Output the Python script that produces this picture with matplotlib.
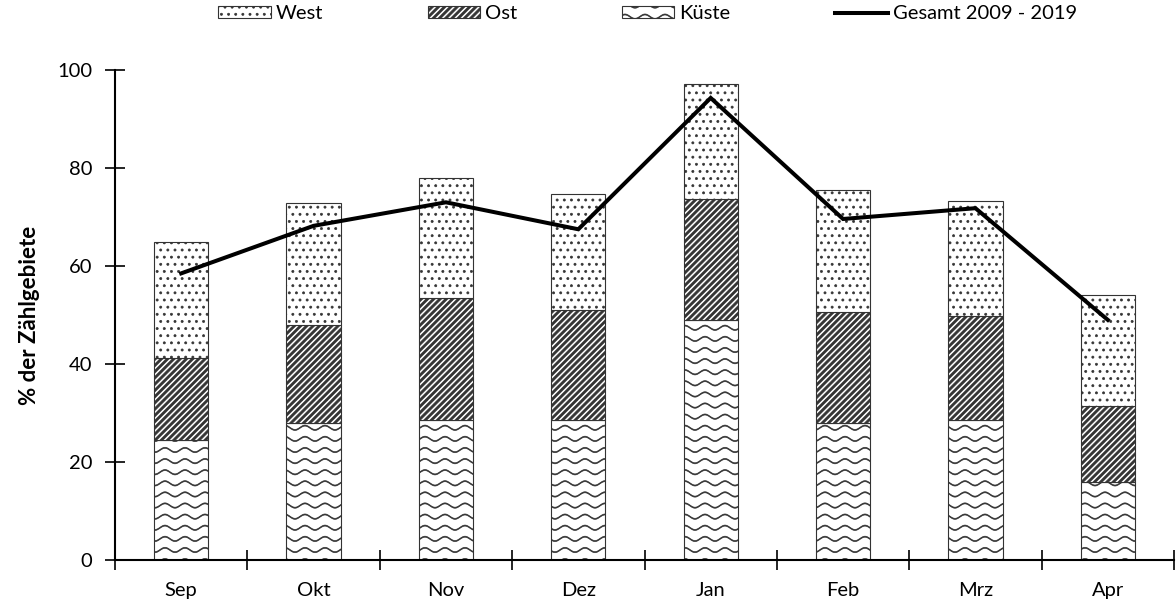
import warnings
import numpy as np
import matplotlib
matplotlib.use("Agg")
import matplotlib.pyplot as plt
import matplotlib.hatch as mhatch
from matplotlib.path import Path

warnings.filterwarnings("ignore")

# ---------------- data ----------------
months = ["Sep", "Okt", "Nov", "Dez", "Jan", "Feb", "Mrz", "Apr"]
kueste = [24.5, 28.0, 28.6, 28.6, 48.9, 28.0, 28.6, 15.9]
ost = [16.8, 20.0, 24.9, 22.4, 24.8, 22.7, 21.2, 15.5]
west = [23.7, 24.8, 24.5, 23.7, 23.5, 24.9, 23.5, 22.6]
gesamt = [58.5, 68.2, 73.0, 67.5, 94.3, 69.6, 71.8, 49.0]
yticks = [0, 20, 40, 60, 80, 100]


# ---------------- custom hatches (unit cell = 72 pt) ----------------
class WaveHatch(mhatch.HatchPatternBase):
    rows = 9
    periods = 5
    npts = 81
    amp = 0.022
    thick = 0.005

    def __init__(self, hatch, density):
        self.on = 'w' in hatch
        self.num_vertices = self.rows * 2 * self.npts if self.on else 0

    def set_vertices_and_codes(self, vertices, codes):
        x = np.linspace(0.0, 1.0, self.npts)
        y = self.amp * np.sin(2 * np.pi * self.periods * x)
        n = self.npts
        for i in range(self.rows):
            s = (i + 0.5) / self.rows
            b = i * 2 * n
            vertices[b:b + n, 0] = x
            vertices[b:b + n, 1] = s + y + self.thick
            vertices[b + n:b + 2 * n, 0] = x[::-1]
            vertices[b + n:b + 2 * n, 1] = (s + y - self.thick)[::-1]
            codes[b:b + 2 * n] = Path.LINETO
            codes[b] = Path.MOVETO


class StripeHatch(mhatch.HatchPatternBase):
    n = 16
    w = 0.03

    def __init__(self, hatch, density):
        self.on = 's' in hatch
        self.num_vertices = (2 * self.n + 1) * 5 if self.on else 0

    def set_vertices_and_codes(self, vertices, codes):
        i = 0
        for k in range(-self.n, self.n + 1):
            x0 = k / self.n
            vertices[i:i + 5] = [(x0, 0), (x0 + self.w, 0), (x0 + self.w + 1, 1),
                                 (x0 + 1, 1), (x0, 0)]
            codes[i] = Path.MOVETO
            codes[i + 1:i + 4] = Path.LINETO
            codes[i + 4] = Path.CLOSEPOLY
            i += 5


class DotHatch(mhatch.HatchPatternBase):
    cols = 14
    rows = 14
    r = 0.011
    seg = 12

    def _centers(self):
        pts = []
        for j in range(self.rows + 1):
            yy = j / self.rows
            if j % 2 == 0:
                xs = np.arange(self.cols + 1) / self.cols
            else:
                xs = (np.arange(self.cols) + 0.5) / self.cols
            for xx in xs:
                pts.append((xx, yy))
        return pts

    def __init__(self, hatch, density):
        self.on = 'd' in hatch
        self.num_vertices = len(self._centers()) * (self.seg + 1) if self.on else 0

    def set_vertices_and_codes(self, vertices, codes):
        t = np.linspace(0, 2 * np.pi, self.seg, endpoint=False)
        cx, cy = self.r * np.cos(t), self.r * np.sin(t)
        m = self.seg + 1
        for i, (px, py) in enumerate(self._centers()):
            b = i * m
            vertices[b:b + self.seg, 0] = px + cx
            vertices[b:b + self.seg, 1] = py + cy
            vertices[b + self.seg] = (px + cx[0], py + cy[0])
            codes[b] = Path.MOVETO
            codes[b + 1:b + self.seg] = Path.LINETO
            codes[b + self.seg] = Path.CLOSEPOLY


for _cls in (WaveHatch, StripeHatch, DotHatch):
    if _cls not in mhatch._hatch_types:
        mhatch._hatch_types.append(_cls)
mhatch._validate_hatch_pattern = lambda h: None

plt.rcParams['font.family'] = ['Lato', 'DejaVu Sans']
plt.rcParams['font.size'] = 14.5
plt.rcParams['hatch.linewidth'] = 0.5

fig = plt.figure(figsize=(11.76, 6.01), dpi=100)
ax = fig.add_axes([0.0978, 0.0682, 0.9005, 0.8153])

x = np.arange(len(months))
width = 0.41
edge = "#333333"

b1 = ax.bar(x, kueste, width, color="white", edgecolor=edge, linewidth=0.8,
            hatch="w", zorder=2)
b2 = ax.bar(x, ost, width, bottom=kueste, color="white", edgecolor=edge,
            linewidth=0.8, hatch="s", zorder=2)
bottom_w = np.array(kueste) + np.array(ost)
b3 = ax.bar(x, west, width, bottom=bottom_w, color="white", edgecolor=edge,
            linewidth=0.8, hatch="d", zorder=2)
ln, = ax.plot(x, gesamt, color="black", linewidth=2.9, zorder=3,
              solid_joinstyle="miter")

ax.set_xlim(-0.5, len(months) - 0.5)
ax.set_ylim(0, 100)
ax.set_yticks(yticks)
ax.set_xticks(x)
ax.set_xticklabels(months)
ax.set_xticks(np.arange(-0.5, len(months), 1.0), minor=True)
ax.tick_params(axis="x", which="major", length=0, pad=16)
ax.tick_params(axis="x", which="minor", direction="inout", length=15, width=1.2)
ax.tick_params(axis="y", direction="inout", length=15, width=1.2, pad=9)

for s in ["top", "right"]:
    ax.spines[s].set_visible(False)
for s in ["left", "bottom"]:
    ax.spines[s].set_linewidth(1.5)

ax.set_ylabel("% der Zählgebiete", fontweight="bold", fontsize=16, labelpad=12)

fig.legend([b3, b2, b1, ln], ["West", "Ost", "Küste", "Gesamt 2009 - 2019"],
           ncol=4, loc="center", bbox_to_anchor=(0.5506, 0.977),
           frameon=False, handlelength=2.6, handleheight=0.5, handletextpad=0.25,
           columnspacing=5.2, fontsize=14.5, borderpad=0.2)

fig.savefig("out.png", dpi=100)
